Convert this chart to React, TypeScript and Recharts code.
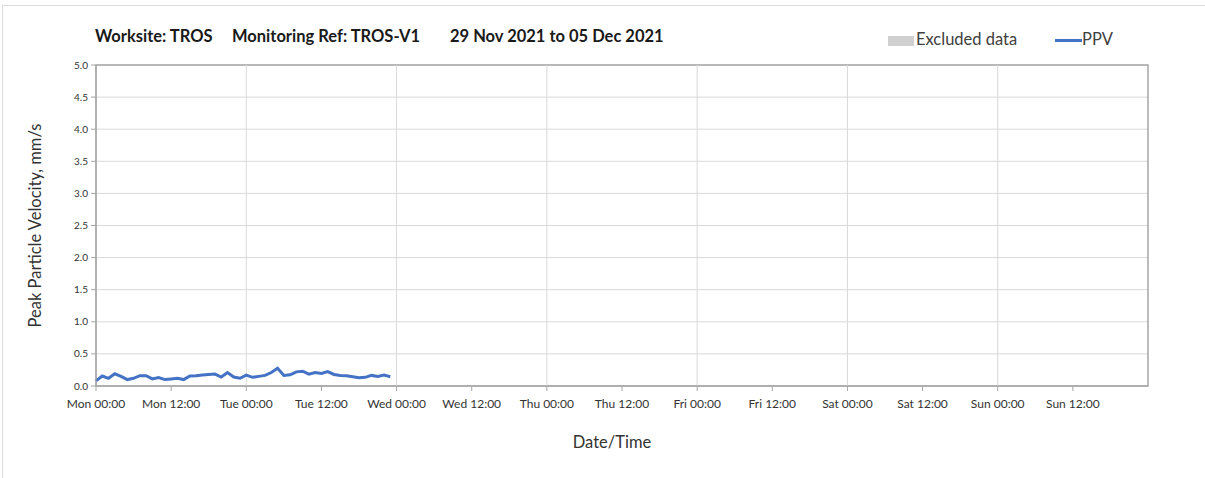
import { ComposedChart, Line, Area, XAxis, YAxis, CartesianGrid, ReferenceLine, ReferenceArea } from 'recharts';

// hourly PPV readings from Mon 29 Nov 00:00
const ppv = [
  0.08, 0.155, 0.12, 0.19, 0.15, 0.10, 0.12, 0.16, 0.16, 0.11, 0.13, 0.10,
  0.11, 0.12, 0.10, 0.155, 0.16, 0.17, 0.18, 0.185, 0.14, 0.21, 0.14, 0.12,
  0.17, 0.135, 0.15, 0.165, 0.21, 0.275, 0.165, 0.175, 0.22, 0.23, 0.185, 0.21,
  0.195, 0.225, 0.18, 0.165, 0.16, 0.145, 0.13, 0.135, 0.165, 0.15, 0.17, 0.145,
];

const days = ['Mon', 'Tue', 'Wed', 'Thu', 'Fri', 'Sat', 'Sun'];
const xTicks = [0, 12, 24, 36, 48, 60, 72, 84, 96, 108, 120, 132, 144, 156];
const dayLines = [24, 48, 72, 96, 120, 144];
const yTicks = [0, 0.5, 1, 1.5, 2, 2.5, 3, 3.5, 4, 4.5, 5];

const data = ppv.map((v, i) => ({ hour: i, ppv: v, excluded: null }));

const fmtX = (h: number) => {
  const d = days[Math.floor(h / 24) % 7];
  const hh = h % 24;
  return `${d} ${String(hh).padStart(2, '0')}:00`;
};

const font = 'Lato, "Open Sans", sans-serif';
const titleStyle = { position: 'absolute' as const, top: 26, fontSize: 16.5, fontWeight: 700, color: '#1a1a1a', whiteSpace: 'pre' as const };

export default function App() {
  return (
    <div style={{ position: 'absolute', left: 0, top: 0, width: 1205, height: 478, overflow: 'hidden', background: '#fff', fontFamily: font }}>
      <div style={{ position: 'absolute', left: 2, top: 5, width: 1220, height: 490, border: '1px solid #d9d9d9' }} />
      <div style={{ ...titleStyle, left: 95 }}>Worksite: TROS</div>
      <div style={{ ...titleStyle, left: 232 }}>Monitoring Ref: TROS-V1</div>
      <div style={{ ...titleStyle, left: 450 }}>29 Nov 2021 to 05 Dec 2021</div>
      <div style={{ position: 'absolute', left: 888, top: 36, width: 26, height: 10, background: '#d0d0d0' }} />
      <div style={{ position: 'absolute', left: 916, top: 29, fontSize: 16.5, color: '#404040' }}>Excluded data</div>
      <div style={{ position: 'absolute', left: 1055, top: 39, width: 27, height: 3, background: '#4472c4' }} />
      <div style={{ position: 'absolute', left: 1082, top: 29, fontSize: 16.5, color: '#404040' }}>PPV</div>

      <ComposedChart width={1205} height={478} data={data} margin={{ top: 65, right: 57, bottom: 30, left: 0 }}>
        <CartesianGrid vertical={false} stroke="#d9d9d9" />
        {dayLines.map(x => (
          <ReferenceLine key={x} x={x} stroke="#d9d9d9" />
        ))}
        <ReferenceArea x1={0} x2={168} y1={0} y2={5} fill="none" stroke="#a6a6a6" strokeWidth={1.5} />
        <XAxis
          dataKey="hour"
          type="number"
          domain={[0, 168]}
          ticks={xTicks}
          tickFormatter={fmtX}
          interval={0}
          height={62}
          stroke="#a6a6a6"
          tickSize={5}
          tickMargin={8}
          tick={{ fontSize: 12, fill: '#333', fontFamily: font }}
          label={{ value: 'Date/Time', position: 'insideBottom', offset: 0, dx: -10, style: { fontSize: 16.5, fill: '#333', fontFamily: font } }}
        />
        <YAxis
          type="number"
          domain={[0, 5]}
          ticks={yTicks}
          tickFormatter={(v: number) => v.toFixed(1)}
          width={96}
          stroke="#a6a6a6"
          tickSize={5}
          tickMargin={3}
          tick={{ fontSize: 10, fill: '#333', fontFamily: font }}
          label={{ value: 'Peak Particle Velocity, mm/s', angle: -90, position: 'insideLeft', offset: 0, dx: 35, style: { textAnchor: 'middle', fontSize: 16.5, fill: '#333', fontFamily: font } }}
        />
        <Area dataKey="excluded" name="Excluded data" fill="#d0d0d0" stroke="none" isAnimationActive={false} />
        <Line type="linear" dataKey="ppv" name="PPV" stroke="#4472c4" strokeWidth={3} dot={false} isAnimationActive={false} />
      </ComposedChart>
    </div>
  );
}
